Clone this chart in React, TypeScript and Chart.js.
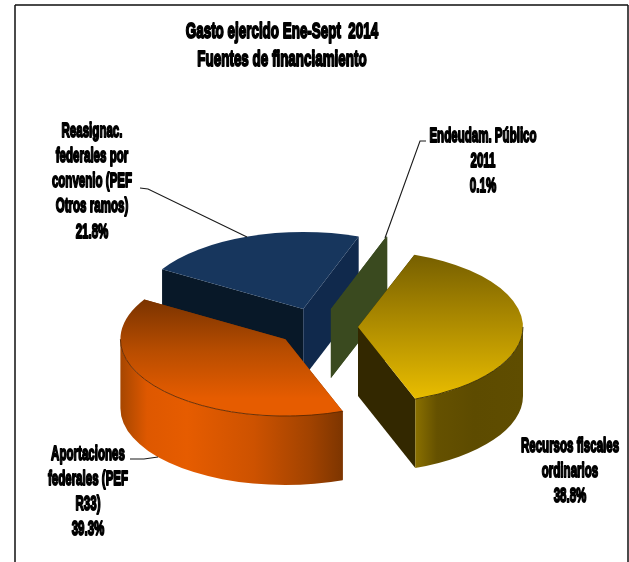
import { useEffect, useRef } from "react";
import { Chart, registerables } from "chart.js";

Chart.register(...registerables);

const titleLines = ["Gasto ejercido Ene-Sept  2014", "Fuentes de financiamiento"];
const categories = [
  ["Recursos fiscales", "ordinarios"],
  ["Aportaciones", "federales (PEF", "R33)"],
  ["Reasignac.", "federales por", "convenio (PEF", "Otros ramos)"],
  ["Endeudam. Público", "2011"],
];
const shares = [38.8, 39.3, 21.8, 0.1];

// Layout of the tilted pie
const TILT = 0.466;
const DEPTH = 69;
const EXPLODE = 41;
const RADIUS = 165;
const PAINT_ORDER = [2, 3, 0, 1];

const labelBoxes = [
  { x: 570, y: 446 },
  { x: 88, y: 454 },
  { x: 92, y: 131 },
  { x: 483, y: 136 },
];
const leaders = [
  null,
  [[130, 459], [144, 459], [158, 457]],
  [[140, 188], [148, 189], [247, 237]],
  [[426, 141], [420, 141], [385, 238]],
];

const faces = [
  {
    top: [[0, "#765f00"], [0.35, "#a08000"], [1, "#e9bd00"]],
    startWall: "#332800",
    endWall: "#332800",
    curve: [[0, "#8a7000"], [0.2, "#655100"], [0.55, "#5d4b00"], [1, "#5f4d00"]],
    rim: "#3a2e00",
  },
  {
    top: [[0, "#7a3300"], [0.45, "#b94d00"], [0.85, "#e65c00"], [1, "#e65c00"]],
    startWall: "#7a3300",
    endWall: "#7a3300",
    curve: [[0, "#a64600"], [0.12, "#de5800"], [0.3, "#e65c00"], [0.6, "#cd5200"], [0.85, "#a24300"], [1, "#7d3500"]],
    rim: "#5c2800",
  },
  {
    top: [[0, "#17365d"], [1, "#17365d"]],
    startWall: "#081828",
    endWall: "#10294c",
    curve: [[0, "#10294c"], [1, "#10294c"]],
    rim: "#0c2340",
  },
  {
    top: [[0, "#3a4a1f"], [1, "#3a4a1f"]],
    startWall: "#3a4a1f",
    endWall: "#3a4a1f",
    curve: [[0, "#3a4a1f"], [1, "#3a4a1f"]],
    rim: "#2c3a15",
  },
];

function gradient(
  ctx: CanvasRenderingContext2D,
  x0: number,
  y0: number,
  x1: number,
  y1: number,
  stops: any[],
) {
  const g = ctx.createLinearGradient(x0, y0, x1, y1);
  stops.forEach(([o, c]) => g.addColorStop(o, c));
  return g;
}

function drawSlice(ctx: CanvasRenderingContext2D, el: any, face: any) {
  const a0 = el.startAngle;
  const a1 = el.endAngle;
  const mid = (a0 + a1) / 2;
  const r = RADIUS;
  const ry = r * TILT;
  const cx = el.x + Math.cos(mid) * EXPLODE;
  const cy = el.y + Math.sin(mid) * EXPLODE * TILT;
  const px = (a: number) => cx + Math.cos(a) * r;
  const py = (a: number) => cy + Math.sin(a) * ry;

  const wall = (a: number, color: string) => {
    ctx.beginPath();
    ctx.moveTo(cx, cy);
    ctx.lineTo(px(a), py(a));
    ctx.lineTo(px(a), py(a) + DEPTH);
    ctx.lineTo(cx, cy + DEPTH);
    ctx.closePath();
    ctx.fillStyle = color;
    ctx.fill();
  };
  wall(a0, face.startWall);
  wall(a1, face.endWall);

  // Outer wall: only the part of the rim that faces the viewer
  const lo = Math.max(a0, 0);
  const hi = Math.min(a1, Math.PI);
  if (hi > lo) {
    ctx.beginPath();
    ctx.ellipse(cx, cy, r, ry, 0, lo, hi);
    ctx.ellipse(cx, cy + DEPTH, r, ry, 0, hi, lo, true);
    ctx.closePath();
    ctx.fillStyle = gradient(ctx, Math.min(px(lo), px(hi)), 0, Math.max(px(lo), px(hi)), 0, face.curve);
    ctx.fill();
  }

  // Top face
  const ys = [cy, py(a0), py(a1)];
  if (a0 < Math.PI / 2 && a1 > Math.PI / 2) ys.push(cy + ry);
  ctx.beginPath();
  ctx.moveTo(cx, cy);
  ctx.ellipse(cx, cy, r, ry, 0, a0, a1);
  ctx.closePath();
  ctx.fillStyle = gradient(ctx, 0, Math.min(...ys), 0, Math.max(...ys), face.top);
  ctx.fill();

  if (hi > lo) {
    ctx.beginPath();
    ctx.ellipse(cx, cy, r, ry, 0, lo, hi);
    ctx.strokeStyle = face.rim;
    ctx.lineWidth = 0.9;
    ctx.stroke();
  }
}

// Heavy condensed lettering, centred on x with the given middle line
function drawText(ctx: CanvasRenderingContext2D, text: string, x: number, y: number, size: number, squeeze: number) {
  ctx.save();
  ctx.translate(x, y);
  ctx.scale(squeeze, 1);
  ctx.font = `bold ${size}px "Liberation Sans", Arial, sans-serif`;
  ctx.textAlign = "center";
  ctx.textBaseline = "middle";
  ctx.fillStyle = "#000";
  ctx.strokeStyle = "#000";
  ctx.lineWidth = 1.9;
  ctx.lineJoin = "round";
  ctx.strokeText(text, 0, 0);
  ctx.fillText(text, 0, 0);
  ctx.restore();
}

const tiltedPie = {
  id: "tiltedPie",
  beforeDatasetDraw(chart: any) {
    const { ctx } = chart;
    const arcs = chart.getDatasetMeta(0).data;
    ctx.save();
    PAINT_ORDER.forEach((i) => drawSlice(ctx, arcs[i], faces[i]));
    ctx.restore();
    return false;
  },
  afterDraw(chart: any) {
    const { ctx } = chart;
    ctx.save();

    // Frame, open along the bottom
    ctx.strokeStyle = "#4a4a4a";
    ctx.lineWidth = 2;
    ctx.beginPath();
    ctx.moveTo(15, 5);
    ctx.lineTo(628, 5);
    ctx.stroke();
    ctx.strokeStyle = "#111";
    ctx.lineWidth = 1.5;
    ctx.beginPath();
    ctx.moveTo(15, 5);
    ctx.lineTo(15, 562);
    ctx.moveTo(628, 5);
    ctx.lineTo(628, 562);
    ctx.stroke();

    titleLines.forEach((t, i) => drawText(ctx, t, 282, 32 + i * 28, 22, 0.61));

    ctx.strokeStyle = "#1a1a1a";
    ctx.lineWidth = 1.1;
    leaders.forEach((pts) => {
      if (!pts) return;
      ctx.beginPath();
      pts.forEach(([x, y], i) => (i ? ctx.lineTo(x, y) : ctx.moveTo(x, y)));
      ctx.stroke();
    });

    categories.forEach((lines, i) => {
      const box = labelBoxes[i];
      [...lines, `${shares[i].toFixed(1)}%`].forEach((t, j) =>
        drawText(ctx, t, box.x, box.y + j * 25.2, 21, 0.55),
      );
    });
    ctx.restore();
  },
};

export default function App() {
  const ref = useRef<HTMLCanvasElement>(null);
  useEffect(() => {
    const chart = new Chart(ref.current!, {
      type: "pie",
      data: {
        labels: categories.map((c) => c.join(" ")),
        datasets: [{ data: shares, backgroundColor: faces.map((f) => f.rim), borderWidth: 0 }],
      },
      options: {
        animation: false,
        responsive: false,
        rotation: 20,
        radius: RADIUS,
        layout: { padding: { left: 5, top: 92 } },
        plugins: { legend: { display: false }, tooltip: { enabled: false } },
      },
      plugins: [tiltedPie],
    });
    return () => chart.destroy();
  }, []);
  return (
    <div style={{ position: "absolute", left: 0, top: 0, background: "#fff" }}>
      <canvas ref={ref} width={629} height={562} style={{ display: "block" }} />
    </div>
  );
}
